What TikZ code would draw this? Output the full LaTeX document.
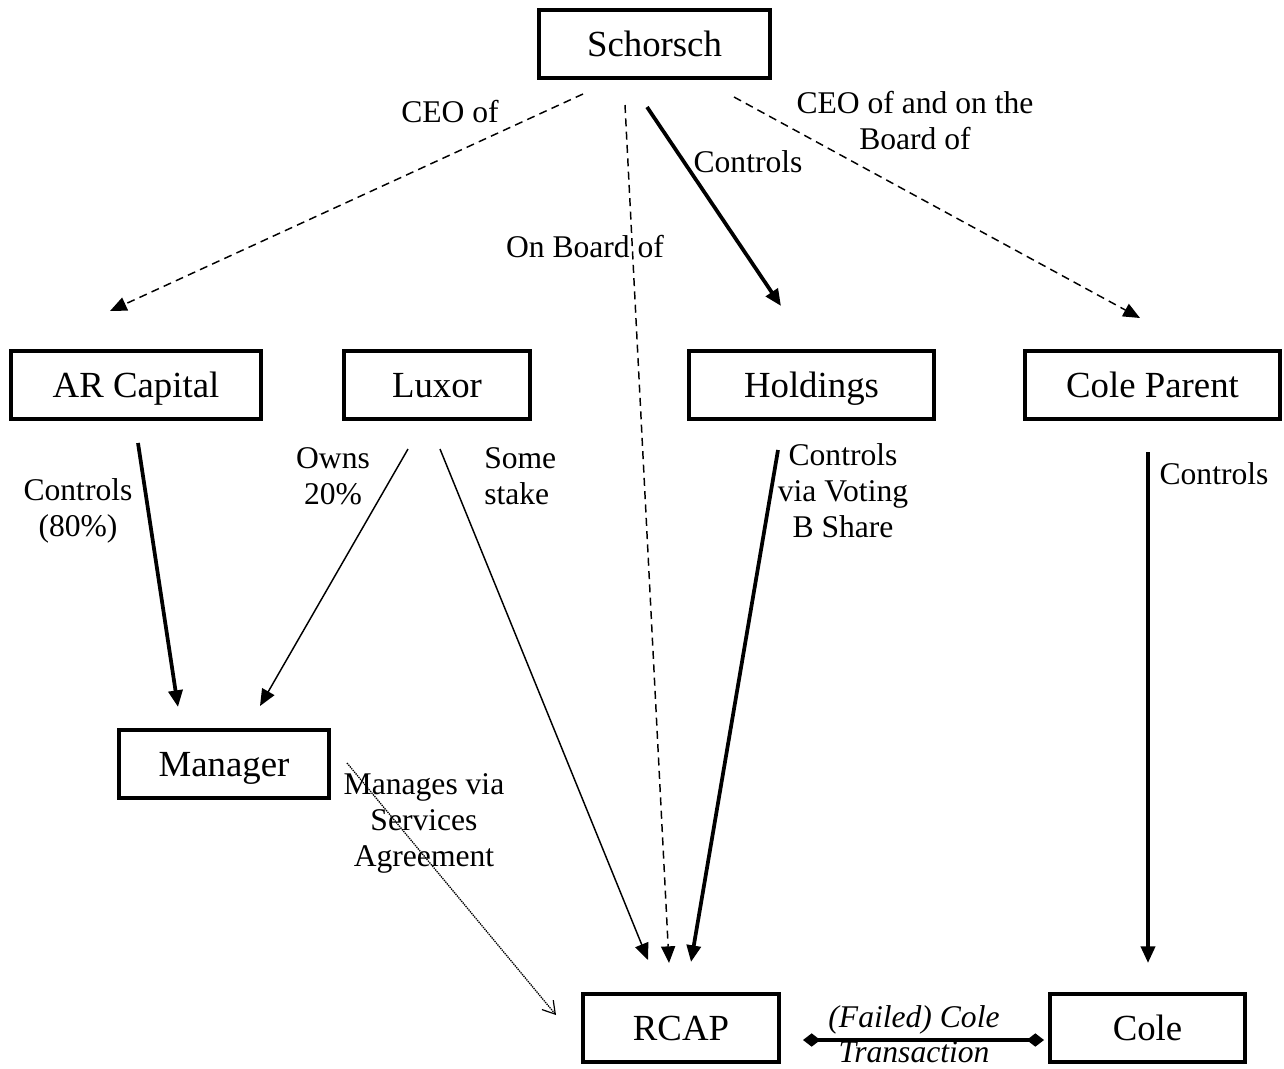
\documentclass[tikz,border=0pt]{standalone}
\usepackage{fontspec}
\setmainfont{Liberation Serif}
\usetikzlibrary{arrows.meta}
\begin{document}
\begin{tikzpicture}[x=0.75pt,y=-0.75pt,
  box/.style={draw,line width=2.3pt,minimum width=#1*0.75pt,minimum height=51pt,inner sep=0pt,text height=20pt,text depth=1pt,font=\fontsize{27.6}{30}\selectfont},
  lbl/.style={font=\fontsize{23.7}{27}\selectfont,inner sep=0pt,align=center},
  tri/.style={-{Triangle[length=12.5pt,width=10.5pt]}},
  thin/.style={line width=1.1pt,tri},
  thick/.style={line width=2.8pt,tri},
  dsh/.style={line width=1.1pt,dash pattern=on 6pt off 4pt,tri},
  dotl/.style={line width=1pt,dash pattern=on 1pt off 0.7pt,-{Straight Barb[length=9pt,width=11pt,line width=0.9pt]}},
  dia/.style={line width=2.6pt,{Diamond[length=13pt,width=10pt]}-{Diamond[length=13pt,width=10pt]}}]
\useasboundingbox (0,0) rectangle (1284,1068);
% boxes
\node[box=231] (schorsch) at (654.5,44) {Schorsch};
\node[box=250] (arcap) at (136,385) {AR Capital};
\node[box=186] (luxor) at (437,385) {Luxor};
\node[box=245] (holdings) at (811.5,385) {Holdings};
\node[box=255] (coleparent) at (1152.5,385) {Cole Parent};
\node[box=210] (manager) at (224,764) {Manager};
\node[box=196] (rcap) at (681,1028) {RCAP};
\node[box=195] (cole) at (1147.5,1028) {Cole};
% connector end points
\coordinate (s1) at (583,94);   \coordinate (e1) at (110,311);
\coordinate (s2) at (625,105);  \coordinate (e2) at (669,963);
\coordinate (s3) at (647,107);  \coordinate (e3) at (781,306);
\coordinate (s4) at (734,97);   \coordinate (e4) at (1140,318);
\coordinate (s5) at (138,443);  \coordinate (e5) at (178,707);
\coordinate (s6) at (408,449);  \coordinate (e6) at (260,706);
\coordinate (s7) at (440,449);  \coordinate (e7) at (648,960);
\coordinate (s8) at (778,450);  \coordinate (e8) at (691,962);
\coordinate (s9) at (1148,452); \coordinate (e9) at (1148,963);
\coordinate (s10) at (347,763); \coordinate (e10) at (556,1015);
\coordinate (s11) at (803,1040); \coordinate (e11) at (1044,1040);
% connectors
\draw[dsh] (s1) -- (e1);
\draw[dsh] (s2) -- (e2);
\draw[thick] (s3) -- (e3);
\draw[dsh] (s4) -- (e4);
\draw[thick] (s5) -- (e5);
\draw[thin] (s6) -- (e6);
\draw[thin] (s7) -- (e7);
\draw[thick] (s8) -- (e8);
\draw[thick] (s9) -- (e9);
\draw[dotl] (s10) -- (e10);
\draw[dia] (s11) -- (e11);
% labels
\node[lbl] (l1) at (450,112) {CEO of};
\node[lbl] (l2) at (585,247) {On Board of};
\node[lbl] (l3) at (748,162) {Controls};
\node[lbl] (l4) at (915,121) {CEO of and on the\\Board of};
\node[lbl] (l5) at (78,511) {Controls\\(80\%)};
\node[lbl] (l6) at (333,476) {Owns\\20\%};
\node[lbl,align=left,anchor=west] (l7) at (484,476) {Some\\stake};
\node[lbl] (l8) at (843,491) {Controls\\via Voting\\B Share};
\node[lbl] (l9) at (1214,474) {Controls};
\node[lbl] (l10) at (424,823) {Manages via\\Services\\Agreement};
\node[lbl,font=\fontsize{23.7}{27}\selectfont\itshape] (l11) at (914,1020) {(Failed) Cole};
\node[lbl,font=\fontsize{23.7}{27}\selectfont\itshape] (l12) at (914,1052) {Transaction};
\end{tikzpicture}
\end{document}
